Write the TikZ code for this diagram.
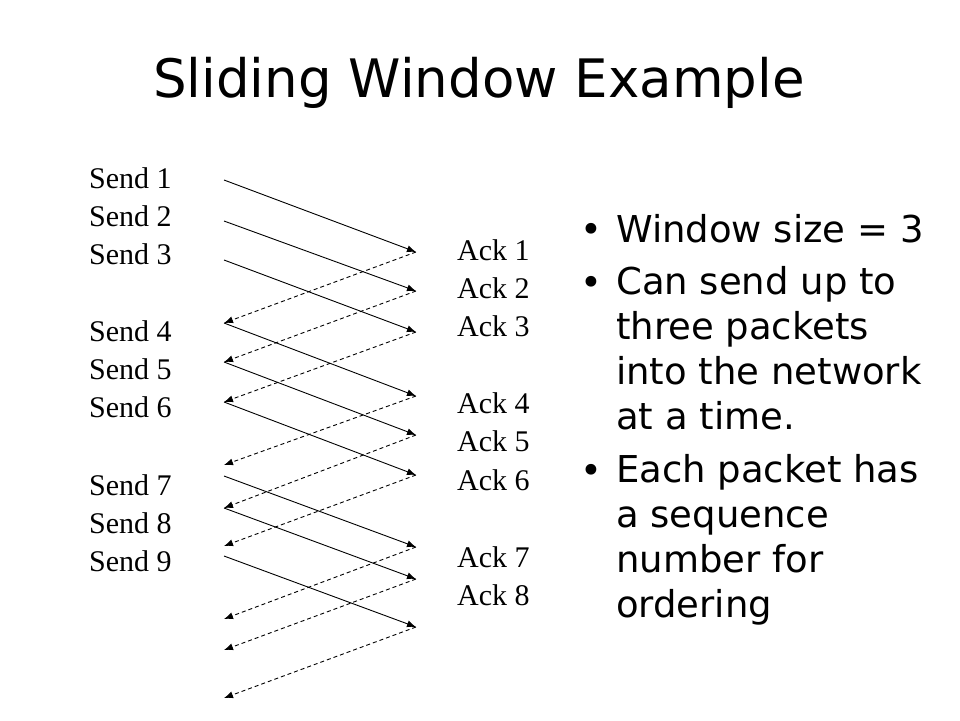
\documentclass[tikz,border=0pt]{standalone}
\usepackage{fontspec}
\setmainfont{Liberation Serif}
\newfontfamily\slidefont{DejaVu Sans}
\usetikzlibrary{arrows.meta,positioning}

\begin{document}
\begin{tikzpicture}[x=1pt,y=-1pt,
  lbl/.style={anchor=base west,inner sep=0pt,font=\fontsize{30}{36}\selectfont},
  item/.style={anchor=base west,inner sep=0pt,align=left,font=\slidefont\fontsize{37}{44.7}\selectfont},
  pkt/.style={-{Latex[length=9pt,width=7pt]},line width=0.9pt},
  ack/.style={pkt,dash pattern=on 4pt off 3pt}]
\useasboundingbox (0,0) rectangle (960,720);
\node[anchor=base west,inner sep=0pt,font=\slidefont\fontsize{53}{60}\selectfont] (title) at (153,97) {Sliding Window Example};
% sender and receiver labels
\foreach \n/\y in {1/188,2/226,3/264,4/341,5/379,6/417,7/495,8/533,9/571}
  \node[lbl] (send\n) at (89,\y) {Send \n};
\foreach \n/\y in {1/260,2/298,3/336,4/413,5/451,6/490,7/567,8/605}
  \node[lbl] (ack\n) at (457,\y) {Ack \n};
% packets out and acks back
\foreach \n/\a/\b/\c in {1/180/252/323,2/221/291/362,3/260/332/402,4/323/396/465,5/362/435/508,6/402/475/546,7/476/547/619,8/508/579/650,9/556/627/698}{
  \coordinate (out\n) at (224,\a);
  \coordinate (in\n) at (416,\b);
  \coordinate (back\n) at (224,\c);
  \draw[pkt] (out\n) -- (in\n);
  \draw[ack] (in\n) -- (back\n);
}
% bullet list (base is the last line)
\foreach \n/\y in {1/242,2/295,3/483}
  \node[item] (dot\n) at (580,\y) {•};
\node[item] (item1) at (616,242) {Window size = 3};
\node[item] (item2) at (616,429) {Can send up to\\three packets\\into the network\\at a time.};
\node[item] (item3) at (616,617) {Each packet has\\a sequence\\number for\\ordering};
\end{tikzpicture}
\end{document}
